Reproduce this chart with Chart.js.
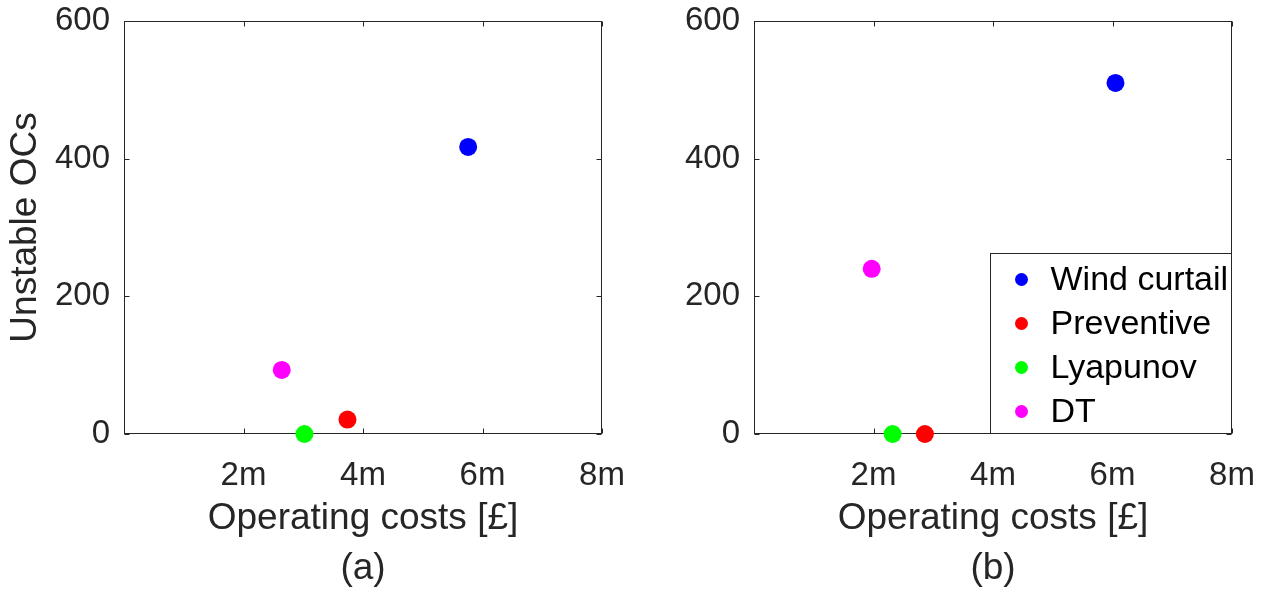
<!DOCTYPE html>
<html>
<head>
<meta charset="utf-8">
<script src="https://cdn.jsdelivr.net/npm/chart.js@4.4.1/dist/chart.umd.min.js"></script>
<style>
  body { margin: 0; background: #fff; overflow: hidden; }
  canvas { position: absolute; top: 0; }
  #chartA { left: 0; }
  #chartB { left: 630px; }
</style>
</head>
<body>
<canvas id="chartA" width="630" height="594"></canvas>
<canvas id="chartB" width="635" height="594"></canvas>
<script>
const methods = ['Wind curtail', 'Preventive', 'Lyapunov', 'DT'];
const colours = ['#0000ff', '#ff0000', '#00ff00', '#ff00ff'];
// operating costs in millions of pounds vs. number of unstable OCs
const costA = [5.76, 3.74, 3.02, 2.64];
const unstableA = [417, 21, 0, 93];
const costB = [6.05, 2.86, 2.32, 1.97];
const unstableB = [510, 0, 0, 240];
const xTicks = [2, 4, 6, 8];
const yTicks = [0, 200, 400, 600];

const FONT = "'Liberation Sans', Arial, Helvetica, sans-serif";
const INK = '#262626';

// MATLAB-style box with inward ticks on all four sides
const frame = {
  id: 'frame',
  beforeDatasetsDraw(chart) {
    const { ctx, chartArea: a, scales: { x, y } } = chart;
    const L = Math.round(a.left) + 0.5, R = Math.round(a.right) - 0.5;
    const T = Math.round(a.top) + 0.5, B = Math.round(a.bottom) - 0.5;
    ctx.save();
    ctx.strokeStyle = INK;
    ctx.lineWidth = 1;
    ctx.strokeRect(L, T, R - L, B - T);
    ctx.beginPath();
    x.ticks.forEach(t => {
      const px = Math.round(x.getPixelForValue(t.value)) + 0.5;
      ctx.moveTo(px, B); ctx.lineTo(px, B - 5);
      ctx.moveTo(px, T); ctx.lineTo(px, T + 5);
    });
    y.ticks.forEach(t => {
      const py = Math.round(y.getPixelForValue(t.value)) + 0.5;
      ctx.moveTo(L, py); ctx.lineTo(L + 5, py);
      ctx.moveTo(R, py); ctx.lineTo(R - 5, py);
    });
    ctx.stroke();
    ctx.restore();
  }
};

// boxed legend in the lower right corner of the axes
const boxLegend = {
  id: 'boxLegend',
  afterDraw(chart) {
    const { ctx, chartArea: a } = chart;
    const left = Math.round(a.right - 242) + 0.5;
    const top = Math.round(a.bottom - 181) + 0.5;
    ctx.save();
    ctx.fillStyle = '#fff';
    ctx.fillRect(left, top, a.right - left, a.bottom - top);
    ctx.strokeStyle = INK;
    ctx.lineWidth = 1;
    ctx.strokeRect(left, top, Math.round(a.right) - 0.5 - left, Math.round(a.bottom) - 0.5 - top);
    ctx.font = '34px ' + FONT;
    ctx.textBaseline = 'middle';
    chart.data.datasets.forEach((ds, i) => {
      const cy = top + 26 + i * 44;
      ctx.fillStyle = ds.backgroundColor;
      ctx.beginPath();
      ctx.arc(left + 31, cy, 6.5, 0, Math.PI * 2);
      ctx.fill();
      ctx.fillStyle = '#000';
      ctx.fillText(ds.label, left + 60, cy + 1);
    });
    ctx.restore();
  }
};

function makeChart(id, costs, unstable, panel, withYTitle, plugins) {
  return new Chart(document.getElementById(id), {
    type: 'scatter',
    data: {
      datasets: methods.map((m, i) => ({
        label: m,
        data: [{ x: costs[i], y: unstable[i] }],
        backgroundColor: colours[i],
        borderWidth: 0,
        pointRadius: 9,
        pointHoverRadius: 9,
        clip: false
      }))
    },
    options: {
      responsive: false,
      animation: false,
      events: [],
      layout: { padding: { left: 0, top: 21, right: id === 'chartA' ? 28 : 33, bottom: 0 } },
      plugins: { legend: { display: false }, tooltip: { enabled: false } },
      scales: {
        x: {
          type: 'linear', min: 0, max: 8,
          afterBuildTicks: s => { s.ticks = xTicks.map(v => ({ value: v })); },
          afterFit: s => { s.height = 160; s.paddingLeft = 0; s.paddingRight = 0; },
          grid: { display: false, drawTicks: false },
          border: { display: false },
          ticks: {
            padding: 22, color: INK, maxRotation: 0, autoSkip: false,
            font: { family: FONT, size: 33 },
            callback: v => v + 'm'
          },
          title: {
            display: true,
            text: ['Operating costs [£]', panel],
            color: INK,
            font: { family: FONT, size: 37, lineHeight: 1.35 },
            padding: { top: 0, bottom: 0 }
          }
        },
        y: {
          type: 'linear', min: 0, max: 600,
          afterBuildTicks: s => { s.ticks = yTicks.map(v => ({ value: v })); },
          afterFit: s => { s.width = 124; s.paddingTop = 0; s.paddingBottom = 0; },
          grid: { display: false, drawTicks: false },
          border: { display: false },
          ticks: { padding: 14, color: INK, font: { family: FONT, size: 33 } },
          title: {
            display: withYTitle,
            text: 'Unstable OCs',
            color: INK,
            font: { family: FONT, size: 37, lineHeight: 1.2 },
            padding: { top: 4, bottom: 0 }
          }
        }
      }
    },
    plugins
  });
}

makeChart('chartA', costA, unstableA, '(a)', true, [frame]);
makeChart('chartB', costB, unstableB, '(b)', false, [frame, boxLegend]);
</script>
</body>
</html>
